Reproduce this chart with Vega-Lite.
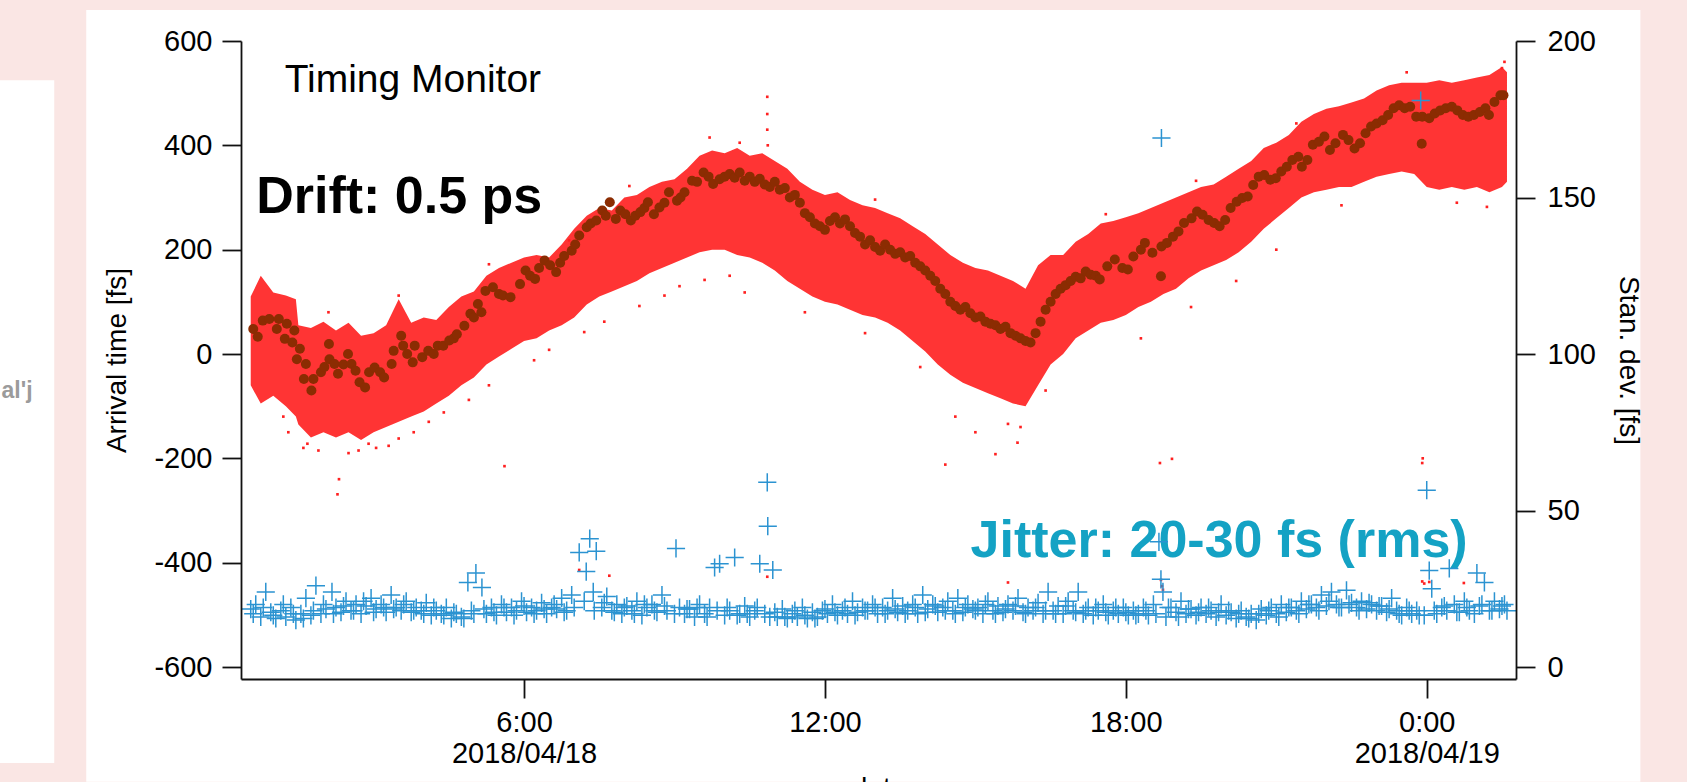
{
  "$schema": "https://vega.github.io/schema/vega-lite/v6.json",
  "width": 1275,
  "height": 638,
  "autosize": {"type": "none"},
  "padding": {"left": 241, "top": 41, "right": 171, "bottom": 103},
  "background": "#fae6e4",
  "config": {
    "font": "Liberation Sans",
    "view": {"stroke": null},
    "axis": {
      "domainColor": "#111111", "domainWidth": 1.8, "tickColor": "#111111", "tickWidth": 1.8, "tickSize": 19,
      "labelFont": "Liberation Sans", "labelFontSize": 29, "labelColor": "#000000",
      "titleFont": "Liberation Sans", "titleFontSize": 28, "titleFontWeight": "normal", "titleColor": "#000000",
      "grid": false, "labelFlush": false, "labelOverlap": false
    }
  },
  "datasets": {
    "band": [
      {"h":0.55,"lo":-60,"hi":110},{"h":0.75,"lo":-95,"hi":150},{"h":1.0,"lo":-80,"hi":118},{"h":1.25,"lo":-100,"hi":112},{"h":1.45,"lo":-120,"hi":105},{"h":1.5,"lo":-135,"hi":55},{"h":1.75,"lo":-160,"hi":50},{"h":2.0,"lo":-150,"hi":62},{"h":2.25,"lo":-160,"hi":45},{"h":2.5,"lo":-150,"hi":60},{"h":2.75,"lo":-165,"hi":35},{"h":3.0,"lo":-150,"hi":40},{"h":3.25,"lo":-140,"hi":55},{"h":3.5,"lo":-130,"hi":105},{"h":3.75,"lo":-120,"hi":60},{"h":4.0,"lo":-110,"hi":70},{"h":4.25,"lo":-95,"hi":65},{"h":4.5,"lo":-80,"hi":90},{"h":4.75,"lo":-60,"hi":110},{"h":5.0,"lo":-45,"hi":120},{"h":5.25,"lo":-20,"hi":150},{"h":5.5,"lo":-5,"hi":165},{"h":5.75,"lo":10,"hi":175},{"h":6.0,"lo":25,"hi":185},{"h":6.25,"lo":30,"hi":190},{"h":6.5,"lo":45,"hi":185},{"h":6.75,"lo":55,"hi":210},{"h":7.0,"lo":70,"hi":240},{"h":7.25,"lo":95,"hi":265},{"h":7.5,"lo":110,"hi":280},{"h":7.75,"lo":120,"hi":275},{"h":8.0,"lo":130,"hi":300},{"h":8.25,"lo":140,"hi":305},{"h":8.5,"lo":155,"hi":320},{"h":8.75,"lo":165,"hi":330},{"h":9.0,"lo":175,"hi":335},{"h":9.25,"lo":185,"hi":355},{"h":9.5,"lo":195,"hi":380},{"h":9.75,"lo":200,"hi":390},{"h":10.0,"lo":200,"hi":385},{"h":10.25,"lo":190,"hi":395},{"h":10.5,"lo":185,"hi":380},{"h":10.75,"lo":175,"hi":385},{"h":11.0,"lo":160,"hi":370},{"h":11.25,"lo":140,"hi":355},{"h":11.5,"lo":125,"hi":330},{"h":11.75,"lo":110,"hi":315},{"h":12.0,"lo":100,"hi":305},{"h":12.25,"lo":95,"hi":310},{"h":12.5,"lo":85,"hi":295},{"h":12.75,"lo":75,"hi":285},{"h":13.0,"lo":70,"hi":280},{"h":13.25,"lo":60,"hi":270},{"h":13.5,"lo":45,"hi":260},{"h":13.75,"lo":25,"hi":245},{"h":14.0,"lo":5,"hi":230},{"h":14.25,"lo":-20,"hi":210},{"h":14.5,"lo":-40,"hi":190},{"h":14.75,"lo":-55,"hi":175},{"h":15.0,"lo":-65,"hi":165},{"h":15.25,"lo":-75,"hi":160},{"h":15.5,"lo":-85,"hi":150},{"h":15.75,"lo":-95,"hi":140},{"h":16.0,"lo":-100,"hi":125},{"h":16.25,"lo":-60,"hi":170},{"h":16.5,"lo":-20,"hi":190},{"h":16.75,"lo":0,"hi":190},{"h":17.0,"lo":30,"hi":215},{"h":17.25,"lo":45,"hi":230},{"h":17.5,"lo":60,"hi":250},{"h":17.75,"lo":65,"hi":255},{"h":18.0,"lo":75,"hi":262},{"h":18.25,"lo":90,"hi":270},{"h":18.5,"lo":100,"hi":280},{"h":18.75,"lo":115,"hi":290},{"h":19.0,"lo":125,"hi":300},{"h":19.25,"lo":145,"hi":310},{"h":19.5,"lo":160,"hi":320},{"h":19.75,"lo":170,"hi":325},{"h":20.0,"lo":180,"hi":340},{"h":20.25,"lo":195,"hi":355},{"h":20.5,"lo":215,"hi":370},{"h":20.75,"lo":240,"hi":395},{"h":21.0,"lo":260,"hi":405},{"h":21.25,"lo":280,"hi":420},{"h":21.5,"lo":300,"hi":445},{"h":21.75,"lo":310,"hi":460},{"h":22.0,"lo":315,"hi":470},{"h":22.25,"lo":320,"hi":475},{"h":22.5,"lo":320,"hi":482},{"h":22.75,"lo":330,"hi":490},{"h":23.0,"lo":340,"hi":505},{"h":23.25,"lo":345,"hi":515},{"h":23.5,"lo":350,"hi":520},{"h":23.75,"lo":345,"hi":520},{"h":24.0,"lo":320,"hi":520},{"h":24.25,"lo":315,"hi":525},{"h":24.5,"lo":320,"hi":520},{"h":24.75,"lo":315,"hi":525},{"h":25.0,"lo":320,"hi":530},{"h":25.25,"lo":310,"hi":535},{"h":25.5,"lo":320,"hi":550},{"h":25.6,"lo":330,"hi":540}
    ],
    "dots": [
      {"h":1.2,"fs":-120},{"h":1.3,"fs":-150},{"h":1.6,"fs":-180},{"h":1.68,"fs":-172},{"h":1.9,"fs":-185},{"h":2.28,"fs":-269},{"h":2.31,"fs":-240},{"h":2.5,"fs":-190},{"h":2.7,"fs":-185},{"h":2.9,"fs":-172},{"h":3.05,"fs":-180},{"h":3.3,"fs":-176},{"h":3.5,"fs":-162},{"h":3.8,"fs":-150},{"h":4.1,"fs":-130},{"h":4.4,"fs":-112},{"h":4.9,"fs":-88},{"h":5.3,"fs":-60},{"h":5.61,"fs":-215},{"h":6.2,"fs":-12},{"h":6.5,"fs":8},{"h":7.2,"fs":42},{"h":7.6,"fs":62},{"h":8.3,"fs":92},{"h":8.8,"fs":112},{"h":9.1,"fs":130},{"h":9.6,"fs":142},{"h":10.1,"fs":150},{"h":10.4,"fs":118},{"h":10.85,"fs":493},{"h":10.85,"fs":460},{"h":10.85,"fs":430},{"h":10.86,"fs":400},{"h":11.6,"fs":80},{"h":12.8,"fs":40},{"h":13.9,"fs":-25},{"h":14.4,"fs":-212},{"h":14.6,"fs":-120},{"h":15.0,"fs":-150},{"h":15.4,"fs":-192},{"h":15.65,"fs":-134},{"h":15.84,"fs":-170},{"h":15.9,"fs":-140},{"h":16.4,"fs":-70},{"h":18.3,"fs":30},{"h":18.68,"fs":-209},{"h":18.92,"fs":-201},{"h":19.3,"fs":90},{"h":20.2,"fs":140},{"h":21.0,"fs":200},{"h":22.3,"fs":285},{"h":23.91,"fs":-209},{"h":23.92,"fs":-200},{"h":24.6,"fs":290},{"h":25.2,"fs":282},{"h":7.1,"fs":-414},{"h":7.7,"fs":-425},{"h":10.85,"fs":-427},{"h":15.65,"fs":-438},{"h":18.7,"fs":-433},{"h":18.72,"fs":-445},{"h":18.74,"fs":-452},{"h":23.91,"fs":-436},{"h":23.95,"fs":-440},{"h":24.05,"fs":-437},{"h":24.74,"fs":-439},{"h":2.1,"fs":80},{"h":3.5,"fs":112},{"h":5.3,"fs":172},{"h":6.9,"fs":218},{"h":8.1,"fs":322},{"h":9.7,"fs":415},{"h":10.3,"fs":405},{"h":13.0,"fs":296},{"h":17.6,"fs":268},{"h":19.4,"fs":332},{"h":21.4,"fs":442},{"h":23.6,"fs":540},{"h":25.55,"fs":560},{"h":25.5,"fs":548}
    ],
    "avg": [
      {"h":0.60,"fs":48},{"h":0.69,"fs":33},{"h":0.79,"fs":64},{"h":0.92,"fs":67},{"h":1.07,"fs":48},{"h":1.11,"fs":67},{"h":1.23,"fs":29},{"h":1.27,"fs":58},{"h":1.38,"fs":22},{"h":1.42,"fs":45},{"h":1.47,"fs":-10},{"h":1.53,"fs":10},{"h":1.61,"fs":-48},{"h":1.65,"fs":-19},{"h":1.76,"fs":-70},{"h":1.80,"fs":-48},{"h":1.95,"fs":-35},{"h":2.02,"fs":-25},{"h":2.11,"fs":19},{"h":2.12,"fs":-10},{"h":2.22,"fs":-19},{"h":2.29,"fs":-38},{"h":2.40,"fs":-20},{"h":2.49,"fs":0},{"h":2.56,"fs":-19},{"h":2.64,"fs":-32},{"h":2.72,"fs":-54},{"h":2.83,"fs":-64},{"h":2.91,"fs":-35},{"h":3.02,"fs":-26},{"h":3.13,"fs":-35},{"h":3.21,"fs":-45},{"h":3.36,"fs":-19},{"h":3.40,"fs":6},{"h":3.55,"fs":35},{"h":3.59,"fs":16},{"h":3.67,"fs":0},{"h":3.78,"fs":-16},{"h":3.82,"fs":16},{"h":3.97,"fs":-6},{"h":4.09,"fs":6},{"h":4.20,"fs":0},{"h":4.28,"fs":16},{"h":4.39,"fs":16},{"h":4.51,"fs":26},{"h":4.60,"fs":30},{"h":4.66,"fs":38},{"h":4.81,"fs":54},{"h":4.93,"fs":77},{"h":5.00,"fs":70},{"h":5.08,"fs":96},{"h":5.15,"fs":80},{"h":5.23,"fs":121},{"h":5.38,"fs":128},{"h":5.50,"fs":115},{"h":5.58,"fs":112},{"h":5.73,"fs":109},{"h":5.92,"fs":134},{"h":6.03,"fs":160},{"h":6.12,"fs":150},{"h":6.22,"fs":144},{"h":6.30,"fs":165},{"h":6.41,"fs":179},{"h":6.52,"fs":170},{"h":6.64,"fs":157},{"h":6.72,"fs":175},{"h":6.80,"fs":188},{"h":6.95,"fs":198},{"h":7.02,"fs":210},{"h":7.10,"fs":227},{"h":7.25,"fs":243},{"h":7.33,"fs":250},{"h":7.44,"fs":256},{"h":7.56,"fs":275},{"h":7.63,"fs":265},{"h":7.71,"fs":291},{"h":7.83,"fs":259},{"h":7.92,"fs":275},{"h":8.02,"fs":268},{"h":8.13,"fs":256},{"h":8.22,"fs":265},{"h":8.32,"fs":272},{"h":8.40,"fs":280},{"h":8.47,"fs":291},{"h":8.59,"fs":268},{"h":8.70,"fs":281},{"h":8.80,"fs":290},{"h":8.89,"fs":310},{"h":9.05,"fs":294},{"h":9.12,"fs":300},{"h":9.20,"fs":310},{"h":9.35,"fs":332},{"h":9.45,"fs":330},{"h":9.58,"fs":348},{"h":9.68,"fs":340},{"h":9.77,"fs":326},
      {"h":9.9,"fs":335},{"h":10.0,"fs":340},{"h":10.1,"fs":345},{"h":10.2,"fs":338},{"h":10.3,"fs":348},{"h":10.4,"fs":332},{"h":10.5,"fs":340},{"h":10.6,"fs":330},{"h":10.7,"fs":336},{"h":10.8,"fs":325},{"h":10.9,"fs":320},{"h":11.0,"fs":330},{"h":11.1,"fs":315},{"h":11.2,"fs":318},{"h":11.3,"fs":300},{"h":11.4,"fs":305},{"h":11.5,"fs":290},{"h":11.6,"fs":270},{"h":11.7,"fs":262},{"h":11.8,"fs":250},{"h":11.9,"fs":245},{"h":12.0,"fs":238},{"h":12.1,"fs":255},{"h":12.2,"fs":262},{"h":12.3,"fs":250},{"h":12.4,"fs":258},{"h":12.5,"fs":245},{"h":12.6,"fs":232},{"h":12.7,"fs":225},{"h":12.8,"fs":210},{"h":12.9,"fs":218},{"h":13.0,"fs":205},{"h":13.1,"fs":198},{"h":13.2,"fs":210},{"h":13.3,"fs":200},{"h":13.4,"fs":192},{"h":13.5,"fs":195},{"h":13.6,"fs":185},{"h":13.7,"fs":188},{"h":13.8,"fs":175},{"h":13.9,"fs":168},{"h":14.0,"fs":160},{"h":14.1,"fs":150},{"h":14.2,"fs":140},{"h":14.3,"fs":125},{"h":14.4,"fs":115},{"h":14.5,"fs":100},{"h":14.6,"fs":92},{"h":14.7,"fs":85},{"h":14.8,"fs":90},{"h":14.9,"fs":78},{"h":15.0,"fs":70},{"h":15.1,"fs":72},{"h":15.2,"fs":62},{"h":15.3,"fs":58},{"h":15.4,"fs":55},{"h":15.5,"fs":48},{"h":15.6,"fs":52},{"h":15.7,"fs":40},{"h":15.8,"fs":35},{"h":15.9,"fs":30},{"h":16.0,"fs":25},{"h":16.1,"fs":22},{"h":16.2,"fs":40},{"h":16.3,"fs":62},{"h":16.4,"fs":85},{"h":16.5,"fs":100},{"h":16.6,"fs":115},{"h":16.7,"fs":125},{"h":16.8,"fs":132},{"h":16.9,"fs":140},{"h":17.0,"fs":148},{"h":17.1,"fs":145},{"h":17.2,"fs":158},{"h":17.3,"fs":152},{"h":17.4,"fs":150},
      {"h":17.48,"fs":143},{"h":17.63,"fs":168},{"h":17.78,"fs":181},{"h":17.93,"fs":165},{"h":18.04,"fs":162},{"h":18.15,"fs":187},{"h":18.30,"fs":200},{"h":18.38,"fs":213},{"h":18.53,"fs":194},{"h":18.70,"fs":149},{"h":18.71,"fs":206},{"h":18.82,"fs":213},{"h":18.94,"fs":225},{"h":19.05,"fs":235},{"h":19.16,"fs":251},{"h":19.31,"fs":260},{"h":19.42,"fs":273},{"h":19.53,"fs":267},{"h":19.65,"fs":257},{"h":19.76,"fs":251},{"h":19.87,"fs":245},{"h":19.98,"fs":257},{"h":20.09,"fs":280},{"h":20.21,"fs":292},{"h":20.32,"fs":299},{"h":20.43,"fs":302},{"h":20.54,"fs":324},{"h":20.65,"fs":340},{"h":20.76,"fs":343},{"h":20.88,"fs":334},{"h":20.99,"fs":337},{"h":21.10,"fs":350},{"h":21.21,"fs":359},{"h":21.32,"fs":372},{"h":21.44,"fs":378},{"h":21.51,"fs":359},{"h":21.62,"fs":372},{"h":21.73,"fs":401},{"h":21.85,"fs":407},{"h":21.96,"fs":417},{"h":22.07,"fs":391},{"h":22.18,"fs":404},{"h":22.33,"fs":420},{"h":22.44,"fs":410},{"h":22.56,"fs":394},{"h":22.67,"fs":404},{"h":22.78,"fs":423},{"h":22.89,"fs":436},{"h":23.00,"fs":442},{"h":23.12,"fs":448},{"h":23.23,"fs":458},{"h":23.34,"fs":471},{"h":23.45,"fs":477},{"h":23.56,"fs":471},{"h":23.67,"fs":474},{"h":23.79,"fs":455},{"h":23.90,"fs":403},{"h":23.91,"fs":455},{"h":24.05,"fs":452},{"h":24.16,"fs":461},{"h":24.27,"fs":467},{"h":24.38,"fs":471},{"h":24.50,"fs":474},{"h":24.61,"fs":467},{"h":24.72,"fs":458},{"h":24.83,"fs":455},{"h":24.94,"fs":458},{"h":25.06,"fs":464},{"h":25.17,"fs":471},{"h":25.24,"fs":458},{"h":25.35,"fs":483},{"h":25.47,"fs":496},{"h":25.53,"fs":496}
    ],
    "sigma": [
      {"h":0.55,"s":18.5},{"h":0.65,"s":20},{"h":0.75,"s":16},{"h":0.85,"s":24},{"h":0.95,"s":17.5},{"h":1.05,"s":15.5},{"h":1.15,"s":18},{"h":1.25,"s":16},{"h":1.35,"s":19},{"h":1.45,"s":15},{"h":1.55,"s":17},{"h":1.65,"s":22},{"h":1.75,"s":16.5},{"h":1.85,"s":26},{"h":1.95,"s":17},{"h":2.05,"s":18.5},{"h":2.17,"s":24},{"h":2.25,"s":19},{"h":2.35,"s":17.5},{"h":2.45,"s":21},{"h":2.55,"s":18},{"h":2.65,"s":20},{"h":2.75,"s":17},{"h":2.85,"s":19.5},{"h":2.95,"s":22},{"h":3.05,"s":18.5},{"h":3.15,"s":20},{"h":3.25,"s":17.5},{"h":3.35,"s":23},{"h":3.45,"s":19},{"h":3.55,"s":18},{"h":3.65,"s":21},{"h":3.75,"s":17.5},{"h":3.85,"s":19},{"h":3.95,"s":18},{"h":4.05,"s":20.5},{"h":4.15,"s":16.5},{"h":4.25,"s":18},{"h":4.35,"s":17},{"h":4.45,"s":19},{"h":4.55,"s":15.5},{"h":4.65,"s":17},{"h":4.75,"s":16},{"h":4.88,"s":27},{"h":4.95,"s":18},{"h":5.04,"s":30},{"h":5.16,"s":25.4},{"h":5.25,"s":17},{"h":5.35,"s":19},{"h":5.45,"s":16.5},{"h":5.55,"s":20},{"h":5.65,"s":17.5},{"h":5.75,"s":19},{"h":5.85,"s":18},{"h":5.95,"s":21},{"h":6.05,"s":17.5},{"h":6.15,"s":19},{"h":6.25,"s":18},{"h":6.35,"s":20.5},{"h":6.45,"s":17},{"h":6.55,"s":19},{"h":6.65,"s":18.5},{"h":6.75,"s":22},{"h":6.85,"s":18},{"h":6.95,"s":23},{"h":7.1,"s":36.6},{"h":7.24,"s":30.5},{"h":7.31,"s":41},{"h":7.44,"s":37},{"h":7.38,"s":24},{"h":7.55,"s":19},{"h":7.65,"s":22.5},{"h":7.75,"s":18},{"h":7.85,"s":20},{"h":7.95,"s":17},{"h":8.05,"s":19.5},{"h":8.15,"s":18},{"h":8.25,"s":21},{"h":8.35,"s":16.5},{"h":8.45,"s":19},{"h":8.55,"s":20},{"h":8.65,"s":17.5},{"h":8.75,"s":23},{"h":8.85,"s":18},{"h":9.03,"s":37.9},{"h":9.1,"s":19},{"h":9.2,"s":17},{"h":9.3,"s":18.5},{"h":9.4,"s":16},{"h":9.5,"s":20},{"h":9.6,"s":17},{"h":9.7,"s":19},{"h":9.8,"s":31.8},{"h":9.9,"s":33},{"h":10.0,"s":16.5},{"h":10.1,"s":18},{"h":10.2,"s":35},{"h":10.3,"s":17},{"h":10.4,"s":19.5},{"h":10.5,"s":16},{"h":10.6,"s":18},{"h":10.7,"s":33},{"h":10.8,"s":17},{"h":10.85,"s":59},{"h":10.86,"s":45},{"h":10.96,"s":31},{"h":11.05,"s":16},{"h":11.15,"s":18.5},{"h":11.25,"s":15.5},{"h":11.35,"s":17},{"h":11.45,"s":16},{"h":11.55,"s":19},{"h":11.65,"s":15.5},{"h":11.75,"s":17.5},{"h":11.85,"s":16},{"h":11.95,"s":18},{"h":12.05,"s":17},{"h":12.15,"s":20},{"h":12.25,"s":16.5},{"h":12.35,"s":18},{"h":12.45,"s":17},{"h":12.55,"s":21},{"h":12.65,"s":17.5},{"h":12.75,"s":19},{"h":12.85,"s":18},{"h":12.95,"s":20},{"h":13.05,"s":17},{"h":13.15,"s":19},{"h":13.25,"s":18},{"h":13.35,"s":22},{"h":13.45,"s":17.5},{"h":13.55,"s":19.5},{"h":13.65,"s":18},{"h":13.75,"s":20},{"h":13.85,"s":17},{"h":13.95,"s":23},{"h":14.05,"s":18.5},{"h":14.15,"s":20},{"h":14.25,"s":17.5},{"h":14.35,"s":19},{"h":14.45,"s":21},{"h":14.55,"s":18},{"h":14.65,"s":22},{"h":14.75,"s":17.5},{"h":14.85,"s":20},{"h":14.95,"s":18.5},{"h":15.05,"s":19},{"h":15.15,"s":17},{"h":15.25,"s":21},{"h":15.35,"s":18},{"h":15.45,"s":19.5},{"h":15.55,"s":17.5},{"h":15.65,"s":20},{"h":15.75,"s":18},{"h":15.85,"s":22},{"h":15.95,"s":17.5},{"h":16.05,"s":19},{"h":16.15,"s":18},{"h":16.25,"s":20.5},{"h":16.35,"s":17},{"h":16.45,"s":24},{"h":16.55,"s":18},{"h":16.65,"s":19.5},{"h":16.75,"s":17},{"h":16.85,"s":21},{"h":16.95,"s":18},{"h":17.05,"s":24},{"h":17.15,"s":17},{"h":17.25,"s":19},{"h":17.35,"s":16.5},{"h":17.45,"s":18},{"h":17.55,"s":20},{"h":17.65,"s":16.5},{"h":17.75,"s":18},{"h":17.85,"s":17},{"h":17.95,"s":19},{"h":18.05,"s":16.5},{"h":18.15,"s":18},{"h":18.25,"s":17},{"h":18.35,"s":19},{"h":18.45,"s":16.5},{"h":18.55,"s":20},{"h":18.71,"s":169},{"h":18.66,"s":40},{"h":18.7,"s":28},{"h":18.74,"s":24},{"h":18.8,"s":16},{"h":18.9,"s":19},{"h":19.0,"s":17.5},{"h":19.1,"s":21},{"h":19.2,"s":17},{"h":19.3,"s":18.5},{"h":19.4,"s":16.5},{"h":19.5,"s":19},{"h":19.6,"s":17},{"h":19.7,"s":18},{"h":19.8,"s":16},{"h":19.9,"s":20},{"h":20.0,"s":16.5},{"h":20.1,"s":17.5},{"h":20.2,"s":15.5},{"h":20.3,"s":18},{"h":20.4,"s":16},{"h":20.5,"s":17},{"h":20.6,"s":15},{"h":20.7,"s":18.5},{"h":20.8,"s":16.5},{"h":20.9,"s":19},{"h":21.0,"s":17},{"h":21.1,"s":20},{"h":21.2,"s":17.5},{"h":21.3,"s":19},{"h":21.4,"s":18},{"h":21.5,"s":21},{"h":21.6,"s":18.5},{"h":21.7,"s":20},{"h":21.8,"s":19},{"h":21.9,"s":23},{"h":22.0,"s":19.5},{"h":22.1,"s":24},{"h":22.2,"s":20},{"h":22.3,"s":19},{"h":22.4,"s":24.5},{"h":22.5,"s":20.5},{"h":22.6,"s":19},{"h":22.7,"s":21},{"h":22.8,"s":18.5},{"h":22.9,"s":20},{"h":23.0,"s":18},{"h":23.1,"s":19.5},{"h":23.2,"s":17.5},{"h":23.3,"s":22},{"h":23.4,"s":18},{"h":23.5,"s":16.5},{"h":23.6,"s":19},{"h":23.7,"s":17},{"h":23.8,"s":18},{"h":23.88,"s":181},{"h":23.95,"s":16.5},{"h":24.0,"s":56.5},{"h":24.05,"s":30.8},{"h":24.1,"s":25},{"h":24.2,"s":17},{"h":24.3,"s":19},{"h":24.4,"s":18},{"h":24.45,"s":31.5},{"h":24.55,"s":20},{"h":24.65,"s":17.5},{"h":24.75,"s":21},{"h":24.85,"s":18},{"h":25.0,"s":30},{"h":25.05,"s":19.5},{"h":25.15,"s":27},{"h":25.25,"s":18},{"h":25.35,"s":21},{"h":25.45,"s":18.5},{"h":25.55,"s":20},
      {"h":0.6,"s":17},{"h":0.8,"s":19},{"h":1.0,"s":16.5},{"h":1.2,"s":20},{"h":1.4,"s":17},{"h":1.6,"s":15.5},{"h":1.8,"s":18},{"h":2.0,"s":20},{"h":2.2,"s":17},{"h":2.4,"s":19.5},{"h":2.6,"s":18},{"h":2.8,"s":21},{"h":3.0,"s":17.5},{"h":3.2,"s":19},{"h":3.4,"s":18.5},{"h":3.6,"s":20},{"h":3.8,"s":18},{"h":4.0,"s":17},{"h":4.2,"s":19},{"h":4.4,"s":16.5},{"h":4.6,"s":17.5},{"h":4.8,"s":15.5},{"h":5.0,"s":17},{"h":5.2,"s":18.5},{"h":5.4,"s":17.5},{"h":5.6,"s":19},{"h":5.8,"s":16.5},{"h":6.0,"s":19.5},{"h":6.2,"s":17},{"h":6.4,"s":18.5},{"h":6.6,"s":20},{"h":6.8,"s":17.5},{"h":7.0,"s":19},{"h":7.2,"s":21},{"h":7.4,"s":18},{"h":7.6,"s":20.5},{"h":7.8,"s":17.5},{"h":8.0,"s":19},{"h":8.2,"s":17},{"h":8.4,"s":20},{"h":8.6,"s":18},{"h":8.8,"s":19.5},{"h":9.0,"s":17},{"h":9.25,"s":18.5},{"h":9.45,"s":19},{"h":9.65,"s":16},{"h":9.85,"s":18},{"h":10.05,"s":19},{"h":10.25,"s":16.5},{"h":10.45,"s":17},{"h":10.65,"s":19},{"h":10.9,"s":16},{"h":11.0,"s":17.5},{"h":11.2,"s":16},{"h":11.4,"s":18},{"h":11.6,"s":16.5},{"h":11.8,"s":15.5},{"h":12.0,"s":18.5},{"h":12.2,"s":17.5},{"h":12.4,"s":19},{"h":12.6,"s":16.5},{"h":12.8,"s":18},{"h":13.0,"s":19},{"h":13.2,"s":17},{"h":13.4,"s":18.5},{"h":13.6,"s":17},{"h":13.8,"s":19},{"h":14.0,"s":17.5},{"h":14.2,"s":19.5},{"h":14.4,"s":18},{"h":14.6,"s":17},{"h":14.8,"s":19},{"h":15.0,"s":18},{"h":15.2,"s":20},{"h":15.4,"s":17},{"h":15.6,"s":18.5},{"h":15.8,"s":19.5},{"h":16.0,"s":17},{"h":16.2,"s":19},{"h":16.4,"s":18},{"h":16.6,"s":17},{"h":16.8,"s":19.5},{"h":17.0,"s":17.5},{"h":17.2,"s":18},{"h":17.4,"s":19},{"h":17.6,"s":17.5},{"h":17.8,"s":19},{"h":18.0,"s":17.5},{"h":18.2,"s":16.5},{"h":18.4,"s":18},{"h":18.6,"s":17},{"h":18.85,"s":19},{"h":19.05,"s":16},{"h":19.25,"s":18.5},{"h":19.45,"s":17.5},{"h":19.65,"s":19},{"h":19.85,"s":17.5},{"h":20.05,"s":18},{"h":20.25,"s":17},{"h":20.45,"s":15.5},{"h":20.65,"s":17},{"h":20.85,"s":18},{"h":21.05,"s":16},{"h":21.25,"s":19},{"h":21.45,"s":17},{"h":21.65,"s":20},{"h":21.85,"s":18},{"h":22.05,"s":21},{"h":22.25,"s":19},{"h":22.45,"s":20},{"h":22.65,"s":18},{"h":22.85,"s":20.5},{"h":23.05,"s":19.5},{"h":23.25,"s":18.5},{"h":23.45,"s":17},{"h":23.65,"s":18},{"h":23.85,"s":16.5},{"h":24.15,"s":18},{"h":24.35,"s":19.5},{"h":24.6,"s":17.5},{"h":24.8,"s":19},{"h":24.95,"s":17},{"h":25.1,"s":20},{"h":25.3,"s":18},{"h":25.5,"s":19.5},{"h":25.6,"s":18}
    ]
  },
  "layer": [
    {
      "layer": [
        {
          "data": {"values": [{}]},
          "mark": {"type": "rect", "color": "#ffffff"},
          "encoding": {
            "x": {"datum": -2.73, "type": "quantitative", "scale": {"domain": [0.356, 25.78], "nice": false, "zero": false}},
            "x2": {"datum": 28.26},
            "y": {"datum": -820, "type": "quantitative", "scale": {"domain": [-623, 600], "nice": false, "zero": false}},
            "y2": {"datum": 659.4}
          }
        },
        {
          "data": {"values": [{}]},
          "mark": {"type": "rect", "color": "#ffffff"},
          "encoding": {
            "x": {"datum": -5, "type": "quantitative", "scale": {"domain": [0.356, 25.78], "nice": false, "zero": false}},
            "x2": {"datum": -3.368},
            "y": {"datum": -784, "type": "quantitative", "scale": {"domain": [-623, 600], "nice": false, "zero": false}},
            "y2": {"datum": 525}
          }
        },
        {
          "data": {"values": [{}]},
          "mark": {"type": "text", "text": "al'j", "align": "left", "baseline": "alphabetic", "fontSize": 23, "fontWeight": "bold", "color": "#7a7a7a", "opacity": 0.75, "font": "Liberation Sans"},
          "encoding": {
            "x": {"datum": -4.42, "type": "quantitative", "scale": {"domain": [0.356, 25.78], "nice": false, "zero": false}},
            "y": {"datum": -84, "type": "quantitative", "scale": {"domain": [-623, 600], "nice": false, "zero": false}}
          }
        },
        {
          "data": {"name": "band"},
          "mark": {"type": "area", "color": "#ff3434", "opacity": 1},
          "encoding": {
            "x": {
              "field": "h", "type": "quantitative", "title": "date",
              "scale": {"domain": [0.356, 25.78], "nice": false, "zero": false},
              "axis": {
                "orient": "bottom", "zindex": 1, "values": [6, 12, 18, 24], "labelPadding": 10, "labelLineHeight": 31,
                "labelExpr": "datum.value == 6 ? ['6:00', '2018/04/18'] : datum.value == 24 ? ['0:00', '2018/04/19'] : datum.value + ':00'",
                "titlePadding": 6
              }
            },
            "y": {
              "field": "lo", "type": "quantitative", "title": "Arrival time [fs]",
              "scale": {"domain": [-623, 600], "nice": false, "zero": false},
              "axis": {"orient": "left", "zindex": 1, "values": [-600, -400, -200, 0, 200, 400, 600], "labelPadding": 10, "labelExpr": "datum.value + ''", "titlePadding": 22}
            },
            "y2": {"field": "hi"}
          }
        },
        {
          "data": {"name": "dots"},
          "mark": {"type": "square", "color": "#ff2020", "size": 7, "opacity": 1},
          "encoding": {
            "x": {"field": "h", "type": "quantitative", "scale": {"domain": [0.356, 25.78], "nice": false, "zero": false}},
            "y": {"field": "fs", "type": "quantitative", "scale": {"domain": [-623, 600], "nice": false, "zero": false}}
          }
        },
        {
          "data": {"name": "avg"},
          "mark": {"type": "circle", "color": "#8b2c02", "size": 100, "opacity": 1},
          "encoding": {
            "x": {"field": "h", "type": "quantitative", "scale": {"domain": [0.356, 25.78], "nice": false, "zero": false}},
            "y": {"field": "fs", "type": "quantitative", "scale": {"domain": [-623, 600], "nice": false, "zero": false}}
          }
        },
        {
          "data": {"values": [{}]},
          "mark": {"type": "text", "text": "Timing Monitor", "align": "left", "baseline": "alphabetic", "fontSize": 39, "color": "#000000", "font": "Liberation Sans"},
          "encoding": {
            "x": {"datum": 1.226, "type": "quantitative", "scale": {"domain": [0.356, 25.78], "nice": false, "zero": false}},
            "y": {"datum": 502.8, "type": "quantitative", "scale": {"domain": [-623, 600], "nice": false, "zero": false}}
          }
        },
        {
          "data": {"values": [{}]},
          "mark": {"type": "text", "text": "Drift: 0.5 ps", "align": "left", "baseline": "alphabetic", "fontSize": 52, "fontWeight": "bold", "color": "#000000", "font": "Liberation Sans"},
          "encoding": {
            "x": {"datum": 0.658, "type": "quantitative", "scale": {"domain": [0.356, 25.78], "nice": false, "zero": false}},
            "y": {"datum": 270.9, "type": "quantitative", "scale": {"domain": [-623, 600], "nice": false, "zero": false}}
          }
        },
        {
          "data": {"values": [{}]},
          "mark": {"type": "text", "text": "Jitter: 20-30 fs (rms)", "align": "right", "baseline": "alphabetic", "fontSize": 52, "fontWeight": "bold", "color": "#14a2c4", "font": "Liberation Sans"},
          "encoding": {
            "x": {"datum": 24.816, "type": "quantitative", "scale": {"domain": [0.356, 25.78], "nice": false, "zero": false}},
            "y": {"datum": -389, "type": "quantitative", "scale": {"domain": [-623, 600], "nice": false, "zero": false}}
          }
        }
      ]
    },
    {
      "data": {"name": "sigma"},
      "mark": {"type": "point", "shape": "M-1,0L1,0M0,-1L0,1", "size": 330, "filled": false, "stroke": "#2b93d1", "strokeWidth": 1.5, "opacity": 1},
      "encoding": {
        "x": {"field": "h", "type": "quantitative", "scale": {"domain": [0.356, 25.78], "nice": false, "zero": false}},
        "y": {
          "field": "s", "type": "quantitative", "title": "Stan. dev. [fs]",
          "scale": {"domain": [-3.83, 200], "nice": false, "zero": false},
          "axis": {"orient": "right", "zindex": 1, "values": [0, 50, 100, 150, 200], "labelPadding": 12, "titlePadding": 18}
        }
      }
    }
  ],
  "resolve": {"scale": {"y": "independent"}}
}
